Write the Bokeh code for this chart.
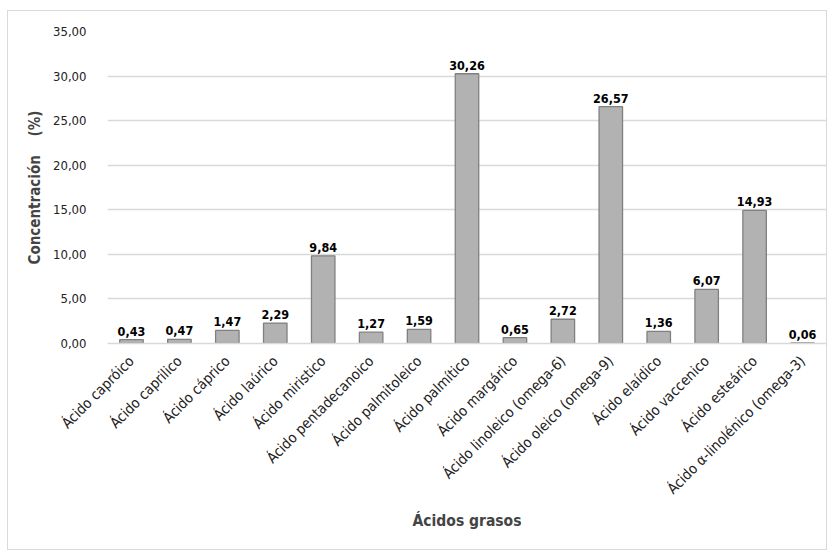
from bokeh.plotting import figure
from bokeh.models import ColumnDataSource, Range1d, FactorRange, CustomJSTickFormatter
from bokeh.core.properties import value
from bokeh.embed import file_html
from bokeh.resources import INLINE
import math

categories = ["Ácido capróico", "Ácido caprilico", "Ácido cáprico", "Ácido laúrico",
              "Ácido miristico", "Ácido pentadecanoico", "Ácido palmitoleico",
              "Ácido palmítico", "Ácido margárico", "Ácido linoleico (omega-6)",
              "Ácido oleico (omega-9)", "Ácido elaídico", "Ácido vaccenico",
              "Ácido esteárico", "Ácido α-linolénico (omega-3)"]
values = [0.43, 0.47, 1.47, 2.29, 9.84, 1.27, 1.59, 30.26, 0.65, 2.72, 26.57, 1.36, 6.07, 14.93, 0.06]
labels = [f"{v:.2f}".replace(".", ",") for v in values]

FONT = "DejaVu Sans Condensed"

src = ColumnDataSource(dict(cat=categories, val=values, lab=labels))

p = figure(x_range=FactorRange(*categories, range_padding=0), y_range=Range1d(0, 35),
           width=820, height=540, output_backend="svg", toolbar_location=None,
           min_border_left=99, min_border_right=2, min_border_top=20, min_border_bottom=208,
           margin=(10, 0, 0, 7))
p.styles = {"border": "1px solid #d9d9d9", "box-sizing": "border-box"}
p.outline_line_color = None

p.vbar(x="cat", top="val", width=0.49, source=src, fill_color="#b2b2b2",
       line_color="#808080", line_width=1.3)
p.text(x="cat", y="val", text="lab", source=src, text_align="center",
       text_baseline="bottom", y_offset=-4, text_font=value(FONT),
       text_font_size="12.5px", text_font_style="bold", text_color="#000000")

p.xgrid.grid_line_color = None
p.ygrid.grid_line_color = "#d9d9d9"
p.ygrid.grid_line_width = 1.5

p.yaxis.ticker = [0, 5, 10, 15, 20, 25, 30, 35]
p.yaxis.formatter = CustomJSTickFormatter(code="return tick.toFixed(2).replace('.', ',');")
p.yaxis.axis_line_color = None
p.yaxis.major_tick_line_color = None
p.yaxis.minor_tick_line_color = None
p.yaxis.major_label_standoff = 15
p.yaxis.major_label_text_font = FONT
p.yaxis.major_label_text_font_size = "13px"
p.yaxis.major_label_text_color = "#222222"
p.yaxis.axis_label = "Concentración\u00a0\u00a0\u00a0\u00a0(%)"
p.yaxis.axis_label_text_font = FONT
p.yaxis.axis_label_text_font_size = "15px"
p.yaxis.axis_label_text_font_style = "bold"
p.yaxis.axis_label_standoff = 6

p.xaxis.axis_line_color = "#d9d9d9"
p.xaxis.axis_line_width = 1.5
p.xaxis.major_tick_line_color = None
p.xaxis.minor_tick_line_color = None
p.xaxis.major_label_standoff = 9
p.xaxis.major_label_orientation = math.pi / 4
p.xaxis.major_label_text_font = FONT
p.xaxis.major_label_text_font_size = "14.5px"
p.xaxis.major_label_text_color = "#222222"
p.xaxis.axis_label = "Ácidos grasos"
p.xaxis.axis_label_text_font = FONT
p.xaxis.axis_label_text_font_size = "15.5px"
p.xaxis.axis_label_text_font_style = "bold"
p.xaxis.axis_label_standoff = 6

open("out.html", "w").write(file_html(p, INLINE))
